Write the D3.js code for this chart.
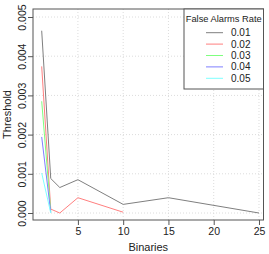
<!DOCTYPE html>
<html><head><meta charset="utf-8">
<script src="https://cdn.jsdelivr.net/npm/d3@7"></script>
<style>body{margin:0;background:#fff}svg{display:block}text{font-family:"Liberation Sans",Arial,sans-serif}</style>
</head><body>
<script>
const seriesNames = ["0.01","0.02","0.03","0.04","0.05"];
const colors = ["#7f7f7f","#ff7f7f","#7fff7f","#7f7fff","#7fffff"];
const x001 = [1,2,3,5,10,15,25];
const y001 = [0.00465,0.00088,0.00065,0.00085,0.00022,0.00039,0.0];
const x002 = [1,2,3,5,10];
const y002 = [0.00374,0.00010,0.0,0.00039,0.00002];
const x003 = [1,2];
const y003 = [0.00285,0.00004];
const x004 = [1,2];
const y004 = [0.00194,0.00002];
const x005 = [1,2];
const y005 = [0.00102,0.0];
const xTicks = [5,10,15,20,25];
const yTicks = [0,0.001,0.002,0.003,0.004,0.005];
const yTickLabels = ["0.000","0.001","0.002","0.003","0.004","0.005"];
const legendTitle = "False Alarms Rate";
const xTitle = "Binaries", yTitle = "Threshold";

const W=269,H=254;
const L=33,R=263.5,T=9,B=220;
const x = d3.scaleLinear().domain([0.04,25.5]).range([L,R]);
const y = d3.scaleLinear().domain([0,0.005]).range([213,17]);

const svg=d3.select("body").append("svg").attr("width",W).attr("height",H);

// grid
svg.append("g").selectAll("line").data(xTicks).join("line")
  .attr("x1",d=>x(d)).attr("x2",d=>x(d)).attr("y1",T).attr("y2",B)
  .attr("stroke","#dcdcdc").attr("stroke-dasharray","1,2").attr("stroke-width",1);
svg.append("g").selectAll("line").data(yTicks).join("line")
  .attr("x1",L).attr("x2",R).attr("y1",d=>y(d)).attr("y2",d=>y(d))
  .attr("stroke","#dcdcdc").attr("stroke-dasharray","1,2").attr("stroke-width",1);

// series
const series=[[x001,y001],[x002,y002],[x003,y003],[x004,y004],[x005,y005]];
const line=d3.line().x(d=>x(d[0])).y(d=>y(d[1]));
series.forEach((s,i)=>{
  const pts=s[0].map((v,j)=>[v,s[1][j]]);
  svg.append("path").datum(pts).attr("d",line).attr("fill","none")
    .attr("stroke",colors[i]).attr("stroke-width",1);
});

// box
svg.append("rect").attr("x",L).attr("y",T).attr("width",R-L).attr("height",B-T)
  .attr("fill","none").attr("stroke","#555").attr("stroke-width",1);

// x axis
const xa=svg.append("g").attr("transform",`translate(0,${B})`)
  .call(d3.axisBottom(x).tickValues(xTicks).tickSize(5).tickPadding(3));
xa.select(".domain").remove();
xa.selectAll("line").attr("stroke","#555");
xa.selectAll("text").attr("font-size",10.5).attr("fill","#222")
  .attr("font-family","Liberation Sans, Arial, sans-serif");

// y axis
const ya=svg.append("g").attr("transform",`translate(${L},0)`)
  .call(d3.axisLeft(y).tickValues(yTicks).tickFormat((d,i)=>yTickLabels[i]).tickSize(5).tickPadding(3));
ya.select(".domain").remove();
ya.selectAll("line").attr("stroke","#555");
ya.selectAll("text").attr("font-size",10.5).attr("fill","#222")
  .attr("font-family","Liberation Sans, Arial, sans-serif")
  .attr("text-anchor","middle").attr("dy",null).attr("x",null)
  .attr("transform",d=>`translate(-11,0) rotate(-90)`).attr("dy","0.35em");

// titles
svg.append("text").attr("x",(L+R)/2).attr("y",251).attr("text-anchor","middle")
  .attr("font-size",11).attr("fill","#222").text(xTitle);
svg.append("text").attr("transform",`translate(11,${(T+B)/2}) rotate(-90)`)
  .attr("text-anchor","middle").attr("font-size",11).attr("fill","#222").text(yTitle);

// legend
const lg=svg.append("g");
lg.append("rect").attr("x",184).attr("y",T).attr("width",R-184).attr("height",80)
  .attr("fill","#fff").attr("stroke","#555").attr("stroke-width",1);
lg.append("text").attr("x",(184+R)/2).attr("y",21.5).attr("text-anchor","middle")
  .attr("font-size",9.3).attr("fill","#222").text(legendTitle);
const ly=d3.scaleLinear().domain([0,4]).range([32.7,78.3]);
seriesNames.forEach((n,i)=>{
  lg.append("line").attr("x1",206).attr("x2",223).attr("y1",ly(i)).attr("y2",ly(i))
    .attr("stroke",colors[i]).attr("stroke-width",1);
  lg.append("text").attr("x",231).attr("y",ly(i)).attr("dy","0.35em")
    .attr("font-size",10).attr("fill","#222").text(n);
});
</script>
</body></html>
